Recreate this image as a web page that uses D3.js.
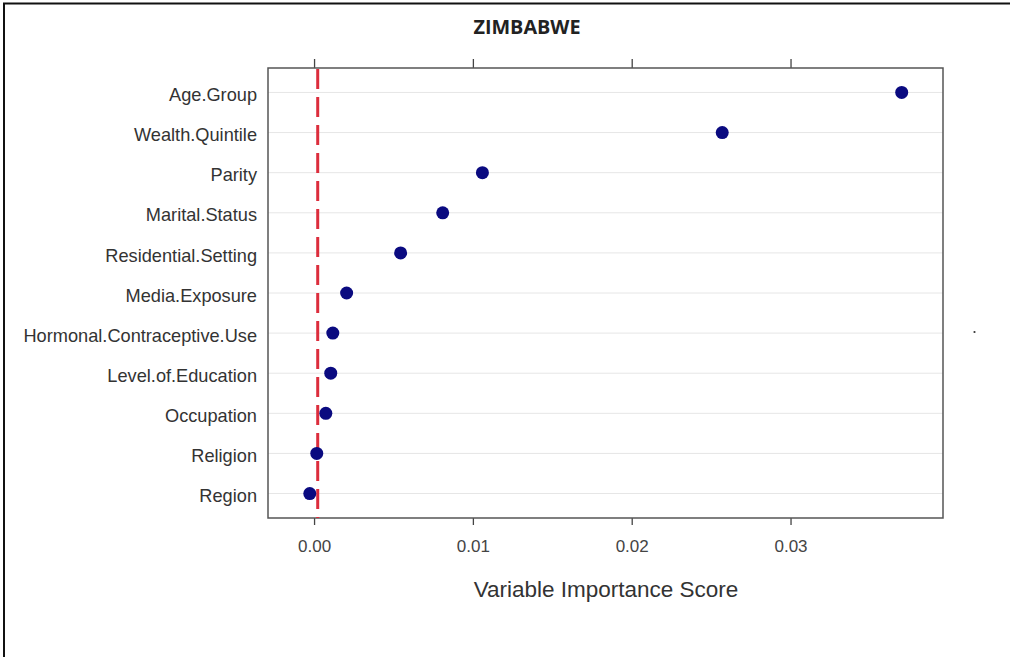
<!DOCTYPE html>
<html><head><meta charset="utf-8">
<script src="https://cdn.jsdelivr.net/npm/d3@7"></script>
<style>body{margin:0;background:#fff;}svg{display:block;}</style>
</head><body>
<script>
const categories = ["Age.Group","Wealth.Quintile","Parity","Marital.Status","Residential.Setting","Media.Exposure","Hormonal.Contraceptive.Use","Level.of.Education","Occupation","Religion","Region"];
const importance = [0.0370,0.0257,0.0106,0.0081,0.00545,0.00205,0.00118,0.00105,0.00074,0.00017,-0.00027];
const xTicks = [0.00,0.01,0.02,0.03];
const refLine = 0.00023;
const chartTitle = "ZIMBABWE";
const xLabel = "Variable Importance Score";

(function(){
const W=1010,H=657;
const svg=d3.select("body").append("svg").attr("width",W).attr("height",H);
svg.append("rect").attr("width",W).attr("height",H).attr("fill","#fff");
svg.append("rect").attr("x",4).attr("y",3.5).attr("width",W+10).attr("height",H+10).attr("fill","none").attr("stroke","#111").attr("stroke-width",2);

const L=268,R=943,T=68,B=518;
const x=d3.scaleLinear().domain([-0.0029,0.0396]).range([L,R]);
const y=d3.scalePoint().domain(categories).range([T,B]).padding(0.61);

svg.append("g").selectAll("line").data(categories).join("line")
 .attr("x1",L).attr("x2",R).attr("y1",d=>y(d)).attr("y2",d=>y(d))
 .attr("stroke","#e6e6e6").attr("stroke-width",1);

const gBottom=svg.append("g").attr("transform",`translate(0,${B})`)
 .call(d3.axisBottom(x).tickValues(xTicks).tickFormat(d3.format(".2f")).tickSize(7).tickPadding(15));
const gTop=svg.append("g").attr("transform",`translate(0,${T})`)
 .call(d3.axisTop(x).tickValues(xTicks).tickFormat("").tickSize(9));
[gBottom,gTop].forEach(g=>{g.select(".domain").remove();g.selectAll("line").attr("stroke","#444").attr("stroke-width",1.3);});
gBottom.selectAll("text").attr("font-family","Liberation Sans, Arial, sans-serif").attr("font-size",17).attr("fill","#444");

const gLeft=svg.append("g").attr("transform",`translate(${L},0)`)
 .call(d3.axisLeft(y).tickSize(0).tickPadding(11));
gLeft.select(".domain").remove();
gLeft.selectAll("text").attr("font-family","Liberation Sans, Arial, sans-serif").attr("font-size",18.2).attr("fill","#333").attr("dy","0.45em");

svg.append("rect").attr("x",L).attr("y",T).attr("width",R-L).attr("height",B-T)
 .attr("fill","none").attr("stroke","#555").attr("stroke-width",1.5);

svg.append("line").attr("x1",x(refLine)).attr("x2",x(refLine)).attr("y1",T+1).attr("y2",B)
 .attr("stroke","#dc2d3c").attr("stroke-width",3).attr("stroke-dasharray","20,8");

svg.append("g").selectAll("circle").data(categories).join("circle")
 .attr("cx",(d,i)=>x(importance[i])).attr("cy",d=>y(d)).attr("r",6.5)
 .attr("fill","#0a0a80");

svg.append("text").attr("x",527).attr("y",34).attr("text-anchor","middle")
 .attr("font-family","Open Sans, sans-serif").attr("font-weight","bold").attr("font-size",19.8).attr("fill","#222").text(chartTitle);
svg.append("text").attr("x",606).attr("y",597).attr("text-anchor","middle")
 .attr("font-family","Liberation Sans, Arial, sans-serif").attr("font-size",22.5).attr("fill","#333").text(xLabel);
svg.append("circle").attr("cx",974.5).attr("cy",332).attr("r",1.1).attr("fill","#333");
})();
</script>
</body></html>
